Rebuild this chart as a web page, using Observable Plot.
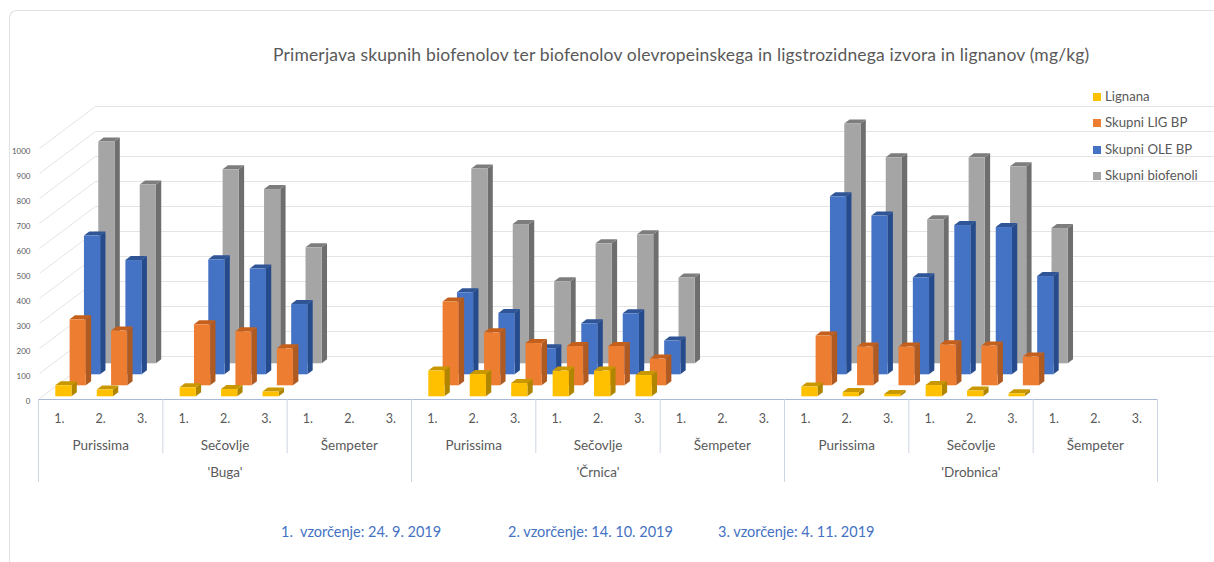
<!DOCTYPE html>
<html>
<head>
<meta charset="utf-8">
<script src="https://cdn.jsdelivr.net/npm/d3@7"></script>
<script src="https://cdn.jsdelivr.net/npm/@observablehq/plot@0.6"></script>
<style>
  html, body { margin: 0; background: #fff; overflow: hidden; }
  #page { position: relative; width: 1214px; height: 562px; overflow: hidden; font-family: Lato, sans-serif; }
  #card { position: absolute; left: 9px; top: 10px; width: 1205px; height: 552px; border: 1px solid #e2e2e2; border-right: 0; border-bottom: 0; border-top-left-radius: 8px; box-sizing: border-box; }
  #chart { position: absolute; left: 0; top: 0; }
  h1 { position: absolute; margin: 0; left: 273px; top: 44px; font-size: 17.5px; letter-spacing: 0.16px; font-weight: 400; color: #595959; white-space: nowrap; }
  #legend div { position: absolute; left: 1093px; font-size: 13.2px; color: #595959; white-space: nowrap; line-height: 14px; }
  #legend i { display: inline-block; width: 8px; height: 8px; margin-right: 4px; }
  #caption span { position: absolute; top: 523px; font-size: 14.5px; color: #4472c4; white-space: pre; }
</style>
</head>
<body>
<div id="page">
  <div id="card"></div>
  <div id="chart"></div>
  <h1 id="title"></h1>
  <div id="legend"></div>
  <div id="caption"></div>
</div>
<script>
const titleText = "Primerjava skupnih biofenolov ter biofenolov olevropeinskega in ligstrozidnega izvora in lignanov (mg/kg)";
const varieties = ["'Buga'", "'Črnica'", "'Drobnica'"];
const sites = ["Purissima", "Sečovlje", "Šempeter"];
const samples = ["1.", "2.", "3."];
const captions = ["1.  vzorčenje: 24. 9. 2019", "2. vzorčenje: 14. 10. 2019", "3. vzorčenje: 4. 11. 2019"];
const yTicks = [0, 100, 200, 300, 400, 500, 600, 700, 800, 900, 1000];

// one value per sample, 27 in all: variety > site > sample
const lignana = [44,27,null, 36,29,19, null,null,null, 103,89,53, 103,103,85, null,null,null, 39,17,9, 45,23,12, null,null,null];
const skupniLig = [264,219,null, 244,216,148, null,null,null, 335,212,169, 157,157,107, null,null,null, 199,155,155, 164,159,115, null,null,null];
const skupniOle = [555,457,null, 460,423,281, null,null,null, 328,245,104, 204,244,135, null,null,null, 712,635,388, 597,589,393, null,null,null];
const skupniBio = [887,715,null, 776,697,464, null,null,null, 779,557,328, 480,516,343, null,null,null, 959,824,576, 824,788,541, null,null,null];

const seriesNames = ["Lignana", "Skupni LIG BP", "Skupni OLE BP", "Skupni biofenoli"];
const seriesValues = [lignana, skupniLig, skupniOle, skupniBio];
const frontColors = ["#ffc000", "#ed7d31", "#4472c4", "#a5a5a5"];
const sideColors  = ["#b08600", "#ae5a21", "#264b8c", "#6e6e6e"];
const topColors   = ["#c99700", "#c4601c", "#2f5597", "#7d7d7d"];

// pixel geometry of the frame; everything below is turned into scale units
const left = 38, right = 1157, floor = 399, top1000 = 149;
const xPerPx = 27 / (right - left);
const yPerPx = 1000 / (floor - top1000);
const px = p => p * xPerPx;
const py = p => p * yPerPx;

const barW = px(16.2), sideX = px(5.3), sideY = py(4);
const stepX = px(14.33), stepY = py(11);
const startX = px(17.3), startY = py(2.7);
const backX = px(57), backY = py(43);

function faces(s) {
  const ox = startX + s * stepX, oy = startY + s * stepY;
  const fronts = [], sidesF = [], topsF = [];
  seriesValues[s].forEach((v, i) => {
    if (v == null) return;
    const xl = i + ox, xr = xl + barW, y0 = oy, y1 = oy + v;
    fronts.push({x1: xl, x2: xr, y1: y0, y2: y1});
    sidesF.push({id: i, x: xr, y1: y0, y2: y1}, {id: i, x: xr + sideX, y1: y0 + sideY, y2: y1 + sideY});
    topsF.push({id: i, y: y1, x1: xl, x2: xr}, {id: i, y: y1 + sideY, x1: xl + sideX, x2: xr + sideX});
  });
  return {fronts, sidesF, topsF};
}

const barMarks = [3, 2, 1, 0].flatMap(s => {
  const {fronts, sidesF, topsF} = faces(s);
  return [
    Plot.areaY(sidesF, {x: "x", y1: "y1", y2: "y2", z: "id", fill: sideColors[s]}),
    Plot.areaX(topsF, {y: "y", x1: "x1", x2: "x2", z: "id", fill: topColors[s]}),
    Plot.rect(fronts, {x1: "x1", x2: "x2", y1: "y1", y2: "y2", fill: frontColors[s]})
  ];
});

const cats = d3.range(27).map(i => ({i, label: samples[i % 3]}));
const siteRows = d3.range(9).map(i => ({x: i * 3 + 1.5, label: sites[i % 3]}));
const varRows = varieties.map((label, i) => ({x: i * 9 + 4.5, label}));
const siteEdges = d3.range(0, 28, 3);
const varEdges = d3.range(0, 28, 9);
const gridRight = 27 + px(1214 - right);
const labelFont = "Lato";

const chart = Plot.plot({
  width: 1214, height: 562,
  marginLeft: left, marginRight: 1214 - right, marginTop: top1000, marginBottom: 562 - floor,
  style: {background: "transparent", overflow: "visible"},
  x: {domain: [0, 27], axis: null},
  y: {domain: [0, 1000], axis: null},
  marks: [
    // back wall and side wall
    Plot.ruleY(yTicks, {y: d => d + backY, x1: backX, x2: gridRight, stroke: "#e4e4e4", strokeWidth: 1}),
    Plot.link(yTicks, {x1: px(1), y1: d => d + py(1), x2: backX, y2: d => d + backY, stroke: "#e4e4e4", strokeWidth: 1}),
    ...barMarks,
    // value axis
    Plot.text(yTicks, {x: 0, y: d => d, text: String, dx: -8, dy: 1.5, textAnchor: "end", fontSize: 8, fill: "#595959", fontFamily: labelFont}),
    // category axis
    Plot.ruleY([0], {x1: 0, x2: 27, stroke: "#a9b9d8", strokeWidth: 1}),
    Plot.ruleX(siteEdges, {x: d => d, y1: 0, y2: py(-54), stroke: "#cdd5e4", strokeWidth: 1}),
    Plot.ruleX(varEdges, {x: d => d, y1: 0, y2: py(-83), stroke: "#cdd5e4", strokeWidth: 1}),
    Plot.text(cats, {x: d => d.i + 0.5, y: 0, dy: 19, text: "label", fontSize: 12.5, fill: "#595959", fontFamily: labelFont}),
    Plot.text(siteRows, {x: "x", y: 0, dy: 46, text: "label", fontSize: 13.5, fill: "#595959", fontFamily: labelFont}),
    Plot.text(varRows, {x: "x", y: 0, dy: 73, text: "label", fontSize: 13.5, fill: "#595959", fontFamily: labelFont})
  ]
});
document.getElementById("chart").appendChild(chart);
document.getElementById("title").textContent = titleText;

const legend = document.getElementById("legend");
seriesNames.forEach((n, i) => {
  const row = document.createElement("div");
  row.style.top = (89 + i * 26.4) + "px";
  const sw = document.createElement("i");
  sw.style.background = frontColors[i];
  row.appendChild(sw);
  row.appendChild(document.createTextNode(n));
  legend.appendChild(row);
});

const cap = document.getElementById("caption");
captions.forEach((c, i) => {
  const sp = document.createElement("span");
  sp.style.left = [281, 508, 718][i] + "px";
  sp.textContent = c;
  cap.appendChild(sp);
});
</script>
</body>
</html>
